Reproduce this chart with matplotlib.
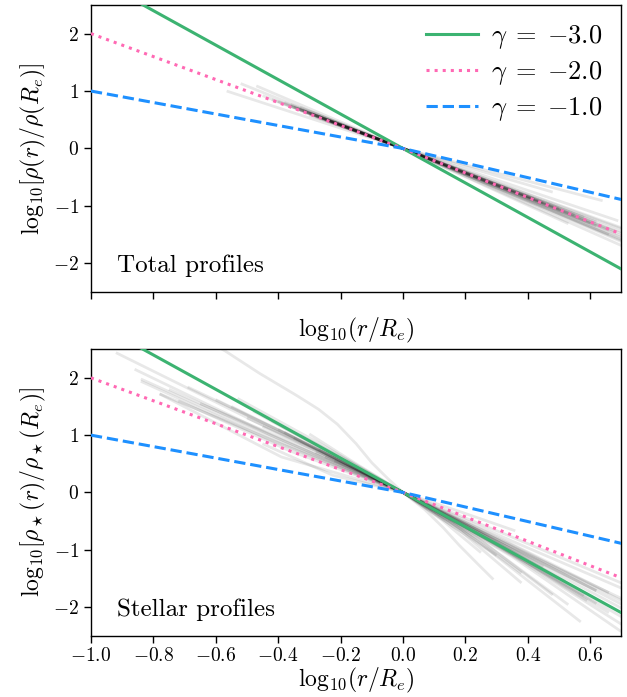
import numpy as np
import matplotlib
matplotlib.use("Agg")
import matplotlib.pyplot as plt

plt.rcParams["font.family"] = "serif"
plt.rcParams["font.serif"] = ["cmr10", "DejaVu Serif"]
plt.rcParams["mathtext.fontset"] = "cm"
plt.rcParams["axes.formatter.use_mathtext"] = True
plt.rcParams["axes.unicode_minus"] = True

# Reference power laws: slope inside R_e and measured slope beyond R_e
gammas = [-3.0, -2.0, -1.0]
outer_slopes = [-3.0, -2.13, -1.27]
ref_colors = ["#3cb371", "#ff69b4", "#1e90ff"]
ref_styles = ["-", ":", "--"]

# Total-density profiles: inner end (x0, y0) and outer end (x1, y1)
total_x0 = [-0.565, -0.52, -0.47, -0.45, -0.40, -0.38, -0.36, -0.35, -0.34, -0.33,
            -0.32, -0.31, -0.30, -0.30, -0.29, -0.28, -0.27, -0.26, -0.25, -0.24,
            -0.23, -0.22, -0.36, -0.42, -0.33]
total_y0 = [1.00, 1.13, 1.09, 0.92, 0.82, 0.80, 0.74, 0.72, 0.70, 0.66,
            0.66, 0.62, 0.62, 0.58, 0.60, 0.55, 0.56, 0.52, 0.50, 0.50,
            0.46, 0.45, 0.77, 0.85, 0.72]
total_x1 = [0.70, 0.69, 0.64, 0.70, 0.70, 0.53, 0.48, 0.70, 0.62, 0.70,
            0.66, 0.58, 0.70, 0.55, 0.70, 0.66, 0.50, 0.70, 0.62, 0.45,
            0.70, 0.60, 0.42, 0.70, 0.68]
total_y1 = [-1.55, -1.26, -0.91, -1.69, -1.48, -1.31, -0.76, -1.40, -1.35, -1.60,
            -1.42, -1.20, -1.52, -1.16, -1.45, -1.50, -1.05, -1.62, -1.28, -0.95,
            -1.38, -1.30, -0.88, -1.58, -1.45]

# Stellar-density profiles: inner end, value at x0/2, outer end, value at x1/2
stellar_x0 = [-0.92, -0.86, -0.84, -0.84, -0.78, -0.69, -0.75, -0.72, -0.65, -0.60,
              -0.55, -0.53, -0.50, -0.48, -0.45, -0.42, -0.40, -0.38, -0.35, -0.33,
              -0.30, -0.28, -0.27, -0.25, -0.22, -0.78, -0.45]
stellar_y0 = [2.44, 2.15, 1.98, 1.94, 1.72, 1.84, 1.80, 1.60, 1.55, 1.62,
              1.50, 1.64, 1.30, 1.42, 1.15, 1.25, 1.10, 1.05, 0.95, 1.00,
              1.02, 0.70, 0.75, 0.62, 0.55, 1.72, 0.85]
stellar_yh0 = [1.20, 1.02, 0.95, 0.90, 0.85, 0.95, 0.88, 0.72, 0.80, 0.82,
               0.76, 0.85, 0.68, 0.70, 0.60, 0.62, 0.55, 0.48, 0.48, 0.52,
               0.50, 0.38, 0.36, 0.32, 0.30, 0.62, 0.30]
stellar_x1 = [0.50, 0.70, 0.62, 0.70, 0.45, 0.70, 0.66, 0.58, 0.70, 0.53,
              0.70, 0.48, 0.70, 0.62, 0.38, 0.70, 0.36, 0.59, 0.70, 0.57,
              0.30, 0.25, 0.66, 0.70, 0.52, 0.38, 0.62]
stellar_y1 = [-1.50, -1.95, -1.72, -2.30, -1.30, -2.43, -2.10, -1.80, -1.85, -1.96,
              -2.02, -1.79, -1.67, -1.71, -1.58, -1.58, -0.67, -1.89, -2.17, -2.26,
              -1.10, -1.05, -1.75, -1.89, -1.55, -1.41, -1.94]
stellar_yh1 = [-0.72, -0.95, -0.85, -1.10, -0.62, -1.12, -1.00, -0.88, -0.95, -0.90,
               -1.00, -0.80, -0.85, -0.88, -0.70, -0.78, -0.33, -0.90, -1.05, -1.05,
               -0.50, -0.48, -0.85, -0.92, -0.75, -0.66, -0.95]

# One strongly curved stellar profile
curved_x = [-0.62, -0.57, -0.46, -0.34, -0.27, -0.21, -0.15, -0.10, -0.05, 0.0,
            0.07, 0.13, 0.18, 0.24, 0.29]
curved_y = [2.62, 2.47, 2.08, 1.69, 1.45, 1.19, 0.85, 0.52, 0.25, 0.0,
            -0.30, -0.62, -0.92, -1.25, -1.52]

fig = plt.figure(figsize=(6.27, 6.97), dpi=100)
ax_top = fig.add_axes([0.145, 0.581, 0.846, 0.412])
ax_bot = fig.add_axes([0.145, 0.088, 0.846, 0.411])

gray_kw = dict(color="k", alpha=0.09, lw=2.0, solid_capstyle="butt",
               solid_joinstyle="round", zorder=1)

for x0, y0, x1, y1 in zip(total_x0, total_y0, total_x1, total_y1):
    ax_top.plot([x0, 0.0, x1], [y0, 0.0, y1], **gray_kw)

for x0, y0, yh0, x1, y1, yh1 in zip(stellar_x0, stellar_y0, stellar_yh0,
                                    stellar_x1, stellar_y1, stellar_yh1):
    ax_bot.plot([x0, x0 / 2, 0.0, x1 / 2, x1], [y0, yh0, 0.0, yh1, y1], **gray_kw)
ax_bot.plot(curved_x, curved_y, **gray_kw)


def gamma_label(g):
    # unary minus kept tight against the number
    return r"$\gamma\;=\;" + ("%.1f" % g).replace("-", "{-}") + "$"


xr = np.array([-1.0, 0.0, 0.7])
xlabel = r"$\mathrm{log}_{10}(r/R_e)$"
for ax in (ax_top, ax_bot):
    for g, so, c, ls in zip(gammas, outer_slopes, ref_colors, ref_styles):
        yr = np.where(xr < 0, g * xr, so * xr)
        ax.plot(xr, yr, color=c, ls=ls, lw=2.2, zorder=3, label=gamma_label(g))
    ax.set_xlim(-1.0, 0.7)
    ax.set_ylim(-2.5, 2.5)
    ax.set_xticks(np.arange(-1.0, 0.61, 0.2))
    ax.set_yticks([-2, -1, 0, 1, 2])
    ax.tick_params(direction="out", length=5, width=1, labelsize=14,
                   top=False, right=False)
    for sp in ax.spines.values():
        sp.set_linewidth(1.0)

ax_top.tick_params(labelbottom=False)
ax_top.set_xlabel(xlabel, fontsize=17, labelpad=12)
ax_bot.set_xlabel(xlabel, fontsize=17, labelpad=0)
ax_top.set_ylabel(r"$\mathrm{log}_{10}[\rho(r)/\rho(R_e)]$", fontsize=17)
ax_bot.set_ylabel(r"$\mathrm{log}_{10}[\rho_\star(r)/\rho_\star(R_e)]$", fontsize=17)

ax_top.text(0.05, 0.09, "Total profiles", transform=ax_top.transAxes,
            fontsize=18, va="center", ha="left")
ax_bot.text(0.05, 0.09, "Stellar profiles", transform=ax_bot.transAxes,
            fontsize=18, va="center", ha="left")

ax_top.legend(loc="upper right", frameon=False, fontsize=19,
              handlelength=2.0, handletextpad=0.5, borderaxespad=0.3,
              labelspacing=0.3)

fig.savefig("out.png", dpi=100)
